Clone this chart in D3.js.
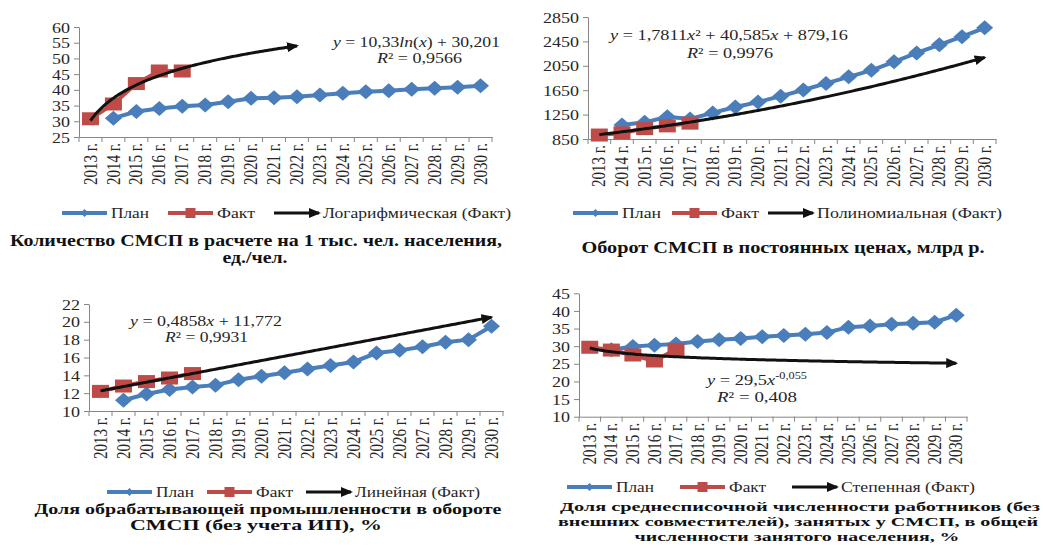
<!DOCTYPE html>
<html><head><meta charset="utf-8">
<script src="https://cdn.jsdelivr.net/npm/d3@7"></script>
<style>
html,body{margin:0;padding:0;background:#fff;}
svg{display:block;font-family:"Liberation Serif","Times New Roman",serif;}
</style></head>
<body>
<svg id="c" width="1043" height="552"></svg>
<script>
// ---------- DATA ----------
const years = ["2013 г.","2014 г.","2015 г.","2016 г.","2017 г.","2018 г.","2019 г.","2020 г.","2021 г.","2022 г.","2023 г.","2024 г.","2025 г.","2026 г.","2027 г.","2028 г.","2029 г.","2030 г."];
const seriesNames = ["План","Факт"];

const plan1 = [null,31.0,33.1,34.1,34.8,35.2,36.2,37.3,37.5,37.8,38.4,38.9,39.4,39.7,40.2,40.5,40.8,41.3];
const fact1 = [30.8,35.5,42.0,46.0,46.0];
const ticks1 = [25,30,35,40,45,50,55,60];
const trend1 = {type:"log", coef:[10.33,30.201], end:10, name:"Логарифмическая (Факт)"};
const title1 = ["Количество СМСП в расчете на 1 тыс. чел. населения,","ед./чел."];

const plan2 = [null,1080,1123,1214,1177,1278,1375,1455,1552,1654,1761,1869,1976,2115,2260,2394,2528,2673];
const fact2 = [915,950,1020,1065,1110];
const ticks2 = [850,1250,1650,2050,2450,2850];
const trend2 = {type:"poly", coef:[1.7811,40.585,879.16], end:18, name:"Полиномиальная (Факт)"};
const title2 = ["Оборот СМСП в постоянных ценах, млрд р."];

const plan3 = [null,11.2,11.9,12.4,12.7,12.9,13.5,13.9,14.3,14.7,15.1,15.5,16.5,16.8,17.2,17.7,18.0,19.5];
const fact3 = [12.2,12.8,13.3,13.7,14.2];
const ticks3 = [10,12,14,16,18,20,22];
const trend3 = {type:"linear", coef:[0.4858,11.772], end:18, name:"Линейная (Факт)"};
const title3 = ["Доля обрабатывающей промышленности в обороте","СМСП (без учета ИП), %"];

const plan4 = [null,29.0,29.9,30.3,30.6,31.3,31.8,32.2,32.7,33.0,33.4,33.9,35.4,35.7,36.2,36.5,36.8,38.8];
const fact4 = [29.7,28.9,27.5,25.8,29.1];
const ticks4 = [10,15,20,25,30,35,40,45];
const trend4 = {type:"power", coef:[29.5,-0.055], end:18, name:"Степенная (Факт)"};
const title4 = ["Доля среднесписочной численности работников (без","внешних совместителей), занятых у СМСП, в общей","численности занятого населения, %"];

// ---------- LAYOUT / STYLE ----------
const BLUE = "#4a7ebb", RED = "#be4b48", AX = "#868686", TXT = "#262626";
const SX = 1.2;
const FONT = '"Liberation Serif","Times New Roman",serif';

const svg = d3.select("#c");
const defs = svg.append("defs");
defs.append("marker").attr("id","arr").attr("viewBox","0 0 12 10")
  .attr("refX",10).attr("refY",5).attr("markerWidth",12).attr("markerHeight",10)
  .attr("markerUnits","userSpaceOnUse").attr("orient","auto")
  .append("path").attr("d","M0,0 L12,5 L0,10 z").attr("fill","#111");

function trendFn(t){
  const c=t.coef;
  if(t.type==="log") return x=>c[0]*Math.log(x)+c[1];
  if(t.type==="poly") return x=>c[0]*x*x+c[1]*x+c[2];
  if(t.type==="linear") return x=>c[0]*x+c[1];
  return x=>c[0]*Math.pow(x,c[1]);
}

function diamond(w,h){return `M0,${-h} L${w},0 L0,${h} L${-w},0 Z`;}

function drawPanel(p){
  const g = svg.append("g");
  const xb = d3.scaleBand().domain(years).range(p.xr);
  const xc = d => xb(d)+xb.bandwidth()/2;
  const xi = d3.scaleLinear().domain([1,years.length]).range([xc(years[0]),xc(years[years.length-1])]);
  const y = d3.scaleLinear().domain([p.ticks[0],p.ticks[p.ticks.length-1]]).range(p.yr);
  const y0 = p.yr[0];

  // y axis
  const ya = g.append("g").attr("transform",`translate(${p.xr[0]},0)`)
    .call(d3.axisLeft(y).tickValues(p.ticks).tickSize(5).tickSizeOuter(0).tickFormat(d=>d))
    .attr("font-family",FONT).attr("font-size",15);
  ya.select(".domain").attr("stroke",AX);
  ya.selectAll(".tick line").attr("stroke",AX);
  ya.selectAll(".tick text").attr("x",0).attr("dy","0.34em")
    .attr("transform",`translate(-9,0) scale(${SX},1)`)
    .attr("fill",TXT);

  // x axis (labels at category centres, ticks on boundaries)
  const xa = g.append("g").attr("transform",`translate(0,${y0})`)
    .call(d3.axisBottom(xb).tickSize(0).tickSizeOuter(0))
    .attr("font-family",FONT).attr("font-size",15);
  xa.select(".domain").attr("stroke",AX);
  xa.selectAll(".tick text").attr("y",0).attr("dy","0.34em")
    .attr("text-anchor","end")
    .attr("transform",`translate(0,6) scale(${SX},1) rotate(-90)`)
    .attr("fill",TXT);
  g.append("g").selectAll("line").data(d3.range(years.length+1)).join("line")
    .attr("x1",i=>p.xr[0]+i*xb.step()).attr("x2",i=>p.xr[0]+i*xb.step())
    .attr("y1",y0).attr("y2",y0+5).attr("stroke",AX);

  // plan line
  const pd = p.plan.map((v,i)=>({k:years[i],v})).filter(d=>d.v!=null);
  const line = d3.line().x(d=>xc(d.k)).y(d=>y(d.v));
  g.append("path").datum(pd).attr("d",line).attr("fill","none").attr("stroke",BLUE).attr("stroke-width",4);
  g.append("g").selectAll("path").data(pd).join("path")
    .attr("transform",d=>`translate(${xc(d.k)},${y(d.v)})`).attr("d",diamond(8.5,7.5)).attr("fill",BLUE);

  // fact line
  const fd = p.fact.map((v,i)=>({k:years[i],v}));
  g.append("path").datum(fd).attr("d",line).attr("fill","none").attr("stroke",RED).attr("stroke-width",4);
  g.append("g").selectAll("rect").data(fd).join("rect")
    .attr("x",d=>xc(d.k)-8.5).attr("y",d=>y(d.v)-6.5).attr("width",17).attr("height",13).attr("fill",RED);

  // trend
  const f = trendFn(p.trend);
  const td = d3.range(1,p.trend.end+1e-9,0.1);
  g.append("path").datum(td).attr("d",d3.line().x(d=>xi(d)).y(d=>y(f(d))))
    .attr("fill","none").attr("stroke","#111").attr("stroke-width",3).attr("marker-end","url(#arr)");

  // equation
  p.eq.forEach(e=>{
    const t = g.append("text").attr("x",e.x).attr("y",e.y).attr("font-size",15).attr("fill",TXT)
      .attr("textLength",e.w).attr("lengthAdjust","spacingAndGlyphs");
    e.parts.forEach(pt=>{
      const ts = t.append("tspan").text(pt[0]);
      if(pt[1]==="i") ts.attr("font-style","italic");
      if(pt[1]==="sup") ts.attr("font-size",10).attr("dy",-6);
    });
  });

  // legend
  const lg = g.append("g").attr("transform",`translate(0,${p.leg.y})`);
  const L = 45;
  lg.append("line").attr("x1",p.leg.x[0]).attr("x2",p.leg.x[0]+L).attr("stroke",BLUE).attr("stroke-width",4);
  lg.append("path").attr("transform",`translate(${p.leg.x[0]+L/2},0)`).attr("d",diamond(4,4)).attr("fill",BLUE);
  lg.append("line").attr("x1",p.leg.x[1]).attr("x2",p.leg.x[1]+L).attr("stroke",RED).attr("stroke-width",4);
  lg.append("rect").attr("x",p.leg.x[1]+L/2-5).attr("y",-5).attr("width",10).attr("height",10).attr("fill",RED);
  lg.append("line").attr("x1",p.leg.x[2]).attr("x2",p.leg.x[2]+L).attr("stroke","#111").attr("stroke-width",3).attr("marker-end","url(#arr)");
  const names = [seriesNames[0],seriesNames[1],p.trend.name];
  names.forEach((n,i)=>{
    lg.append("text").attr("x",p.leg.x[i]+L+4).attr("y",0).attr("dy","0.34em")
      .attr("font-size",15).attr("fill",TXT).attr("textLength",p.leg.w[i]).attr("lengthAdjust","spacingAndGlyphs").text(n);
  });

  // title
  p.title.forEach((s,i)=>{
    g.append("text").attr("x",p.tl[i][0]).attr("y",p.tl[i][1]).attr("text-anchor","middle")
      .attr("font-weight","bold").attr("font-size",p.tfs).attr("fill","#111")
      .attr("textLength",p.tl[i][2]).attr("lengthAdjust","spacingAndGlyphs").text(s);
  });
}

drawPanel({plan:plan1,fact:fact1,ticks:ticks1,trend:trend1,title:title1,
  xr:[79,492], yr:[137,27],
  eq:[{x:333,y:47,w:167,parts:[["y","i"],[" = 10,33"],["ln","i"],["("],["x","i"],[") + 30,201"]]},
      {x:377,y:63,w:85,parts:[["R","i"],["² = 0,9566"]]}],
  leg:{y:213,x:[62,168,274],w:[38,38,188]},
  tfs:16, tl:[[256,246,492],[255,263,65]]});

drawPanel({plan:plan2,fact:fact2,ticks:ticks2,trend:trend2,title:title2,
  xr:[588,996], yr:[139,17],
  eq:[{x:610,y:40,w:238,parts:[["y","i"],[" = 1,7811"],["x","i"],["² + 40,585"],["x","i"],[" + 879,16"]]},
      {x:687,y:58,w:86,parts:[["R","i"],["² = 0,9976"]]}],
  leg:{y:213,x:[573,672,768],w:[39,38,185]},
  tfs:16, tl:[[783,253,403]]});

drawPanel({plan:plan3,fact:fact3,ticks:ticks3,trend:trend3,title:title3,
  xr:[89,503], yr:[411,304],
  eq:[{x:130,y:326,w:152,parts:[["y","i"],[" = 0,4858"],["x","i"],[" + 11,772"]]},
      {x:165,y:342,w:83,parts:[["R","i"],["² = 0,9931"]]}],
  leg:{y:492,x:[107,207,306],w:[38,37,125]},
  tfs:15.5, tl:[[268,514,467],[256,530,252]]});

drawPanel({plan:plan4,fact:fact4,ticks:ticks4,trend:trend4,title:title4,
  xr:[579,967], yr:[416.7,293.3],
  eq:[{x:707,y:385,w:100,parts:[["y","i"],[" = 29,5"],["x","i"],["-0,055","sup"]]},
      {x:717,y:402,w:80,parts:[["R","i"],["² = 0,408"]]}],
  leg:{y:487,x:[567,680,792],w:[38,37,134]},
  tfs:13.5, tl:[[800,511,480],[798,526,480],[797,541,325]]});
</script>
</body></html>
